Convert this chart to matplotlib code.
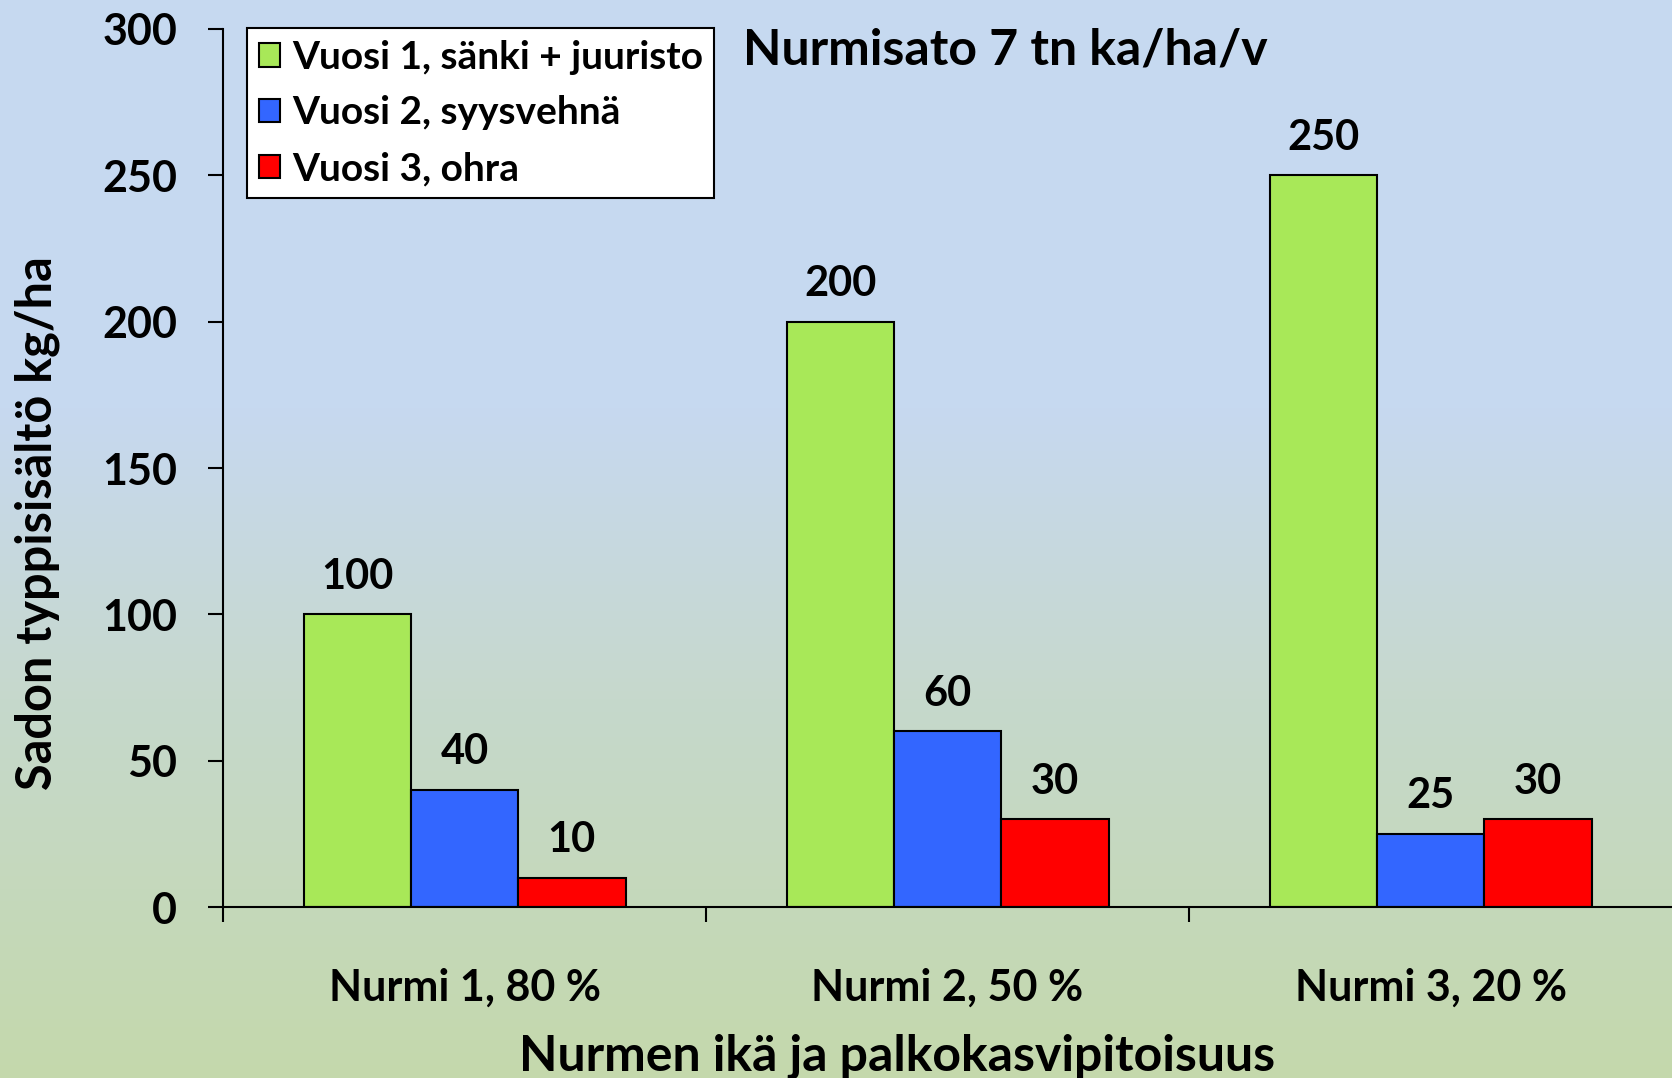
import numpy as np
import matplotlib.pyplot as plt
from matplotlib.colors import LinearSegmentedColormap

plt.rcParams['font.family'] = ['Lato', 'DejaVu Sans']
plt.rcParams['font.weight'] = 'bold'

# data
categories = ['Nurmi 1, 80 %', 'Nurmi 2, 50 %', 'Nurmi 3, 20 %']
series_names = ['Vuosi 1, sänki + juuristo', 'Vuosi 2, syysvehnä', 'Vuosi 3, ohra']
vuosi1 = [100, 200, 250]
vuosi2 = [40, 60, 25]
vuosi3 = [10, 30, 30]
colors = ['#A8E858', '#3366FF', '#FF0000']

fig = plt.figure(figsize=(16.72, 10.78), dpi=100)

# taustan liukuväri (sininen ylhäällä -> vihreä alhaalla)
bg = fig.add_axes([0, 0, 1, 1], zorder=-10)
cmap = LinearSegmentedColormap.from_list(
    'bg', [(0.0, '#C4D8AC'), (0.35, '#C6D8CC'), (0.62, '#C6D9F0'), (1.0, '#C6D9F0')])
grad = np.linspace(0, 1, 256).reshape(-1, 1)
bg.imshow(grad, aspect='auto', cmap=cmap, origin='lower', extent=[0, 1, 0, 1])
bg.axis('off')

ax = fig.add_axes([0.1334, 0.1586, 0.8666, 0.8145])
ax.patch.set_alpha(0)

x = np.arange(len(categories))
w = 1 / 4.5
for i, (vals, name, c) in enumerate(zip([vuosi1, vuosi2, vuosi3], series_names, colors)):
    bars = ax.bar(x + (i - 1) * w, vals, w, color=c, edgecolor='black',
                  linewidth=1.5, label=name)
    for b, v in zip(bars, vals):
        ax.annotate(str(v), (b.get_x() + b.get_width() / 2, v),
                    xytext=(0, 27), textcoords='offset points',
                    ha='center', va='center', fontsize=30, fontweight='bold')

ax.set_xlim(-0.5, 2.5)
ax.set_ylim(0, 300)
ax.set_yticks(range(0, 301, 50))
ax.set_xticks([-0.5, 0.5, 1.5], minor=False)
ax.set_xticklabels([])
ax.set_xticks(x, minor=True)
ax.set_xticklabels(categories, minor=True, fontsize=31, fontweight='bold')
ax.tick_params(axis='x', which='minor', length=0, pad=44)
ax.tick_params(axis='x', which='major', direction='out', length=11, width=1.5)
ax.tick_params(axis='y', direction='out', length=11, width=1.5, labelsize=31, pad=22)
for lab in ax.get_yticklabels():
    lab.set_fontweight('bold')

for s in ['top', 'right']:
    ax.spines[s].set_visible(False)
ax.spines['left'].set_linewidth(1.5)
ax.spines['bottom'].set_linewidth(1.5)

ax.set_ylabel('Sadon typpisisältö kg/ha', fontsize=35, fontweight='bold', va='center')
ax.yaxis.set_label_coords(-0.1284, 0.4376)
ax.set_xlabel('Nurmen ikä ja palkokasvipitoisuus', fontsize=36, fontweight='bold', va='center')
ax.xaxis.set_label_coords(0.465, -0.17)

leg = ax.legend(loc='upper left', bbox_to_anchor=(0.0166, 1.001), fontsize=28,
                frameon=True, fancybox=False, edgecolor='black', framealpha=1,
                handlelength=0.55, handleheight=0.55, handletextpad=0.3,
                labelspacing=0.53, borderpad=0.3, borderaxespad=0)
leg.get_frame().set_linewidth(1.5)
for t in leg.get_texts():
    t.set_fontweight('bold')

fig.text(0.6015, 0.9536, 'Nurmisato 7 tn ka/ha/v', fontsize=36, fontweight='bold',
         ha='center', va='center')

fig.savefig('out.png', dpi=100)
